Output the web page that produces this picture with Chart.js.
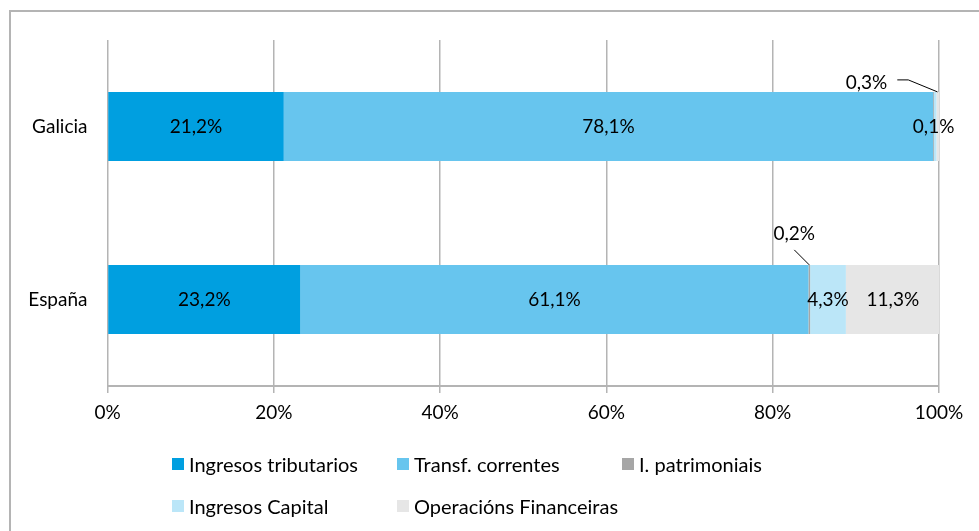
<!DOCTYPE html>
<html>
<head>
<meta charset="utf-8">
<script src="https://cdn.jsdelivr.net/npm/chart.js@4"></script>
<style>
    html, body { margin: 0; padding: 0; background: #fff; overflow: hidden; }
    #wrap { position: relative; width: 979px; height: 531px; }
    #frame {
        position: absolute; left: 9px; top: 10px; width: 1000px; height: 560px;
        border-left: 2px solid #b4b4b4; border-top: 2px solid #b4b4b4;
    }
    #legend {
        position: absolute; left: 172px; top: 452px;
        display: grid; grid-template-columns: 225px 225px 225px; row-gap: 18px;
        font-family: Lato, "Noto Sans", sans-serif; font-size: 20px; color: #000;
    }
    .item { display: flex; align-items: center; height: 24px; white-space: nowrap; }
    .box { width: 12px; height: 12px; margin-right: 5px; flex: none; }
</style>
</head>
<body>
<div id="wrap">
    <div id="frame"></div>
    <canvas id="chart" width="979" height="531"></canvas>
    <div id="legend"></div>
</div>
<script>
// --- datos ---
const categories = ['Galicia', 'España'];
const tributarios = [21.2, 23.2];
const transferencias = [78.1, 61.1];
const patrimoniais = [0.1, 0.2];
const capital = [0.3, 4.3];
const financeiras = [0.3, 11.3];
const xTickValues = [0, 20, 40, 60, 80, 100];

// --- onde vai cada etiqueta (center / leader / none) ---
const labelMode = [
    ['center', 'center'],
    ['center', 'center'],
    ['center', 'leader'],
    ['leader', 'center'],
    ['none', 'center']
];
const FONT = 'Lato, "Noto Sans", sans-serif';
const FONT_SIZE = 19;

const fmt = v => v.toFixed(1).replace('.', ',') + '%';

// etiquetas de datos con líneas guía
const dataLabels = {
    id: 'dataLabels',
    afterDatasetsDraw(chart) {
        const ctx = chart.ctx;
        ctx.save();
        ctx.font = FONT_SIZE + 'px ' + FONT;
        ctx.fillStyle = '#000';
        ctx.textAlign = 'center';
        ctx.textBaseline = 'middle';
        chart.data.datasets.forEach((ds, di) => {
            const meta = chart.getDatasetMeta(di);
            meta.data.forEach((bar, i) => {
                const mode = labelMode[di][i];
                if (mode === 'none') return;
                const text = fmt(ds.data[i]);
                const cx = (bar.x + bar.base) / 2;
                if (mode === 'center') {
                    ctx.fillText(text, cx, bar.y);
                    return;
                }
                const top = bar.y - bar.height / 2;
                ctx.strokeStyle = '#000';
                ctx.lineWidth = 1;
                ctx.beginPath();
                if (i === 0) {
                    // etiqueta á esquerda, liña horizontal + diagonal
                    const tx = bar.x - 70, ty = top - 9;
                    ctx.fillText(text, tx, ty);
                    const w = ctx.measureText(text).width;
                    ctx.moveTo(tx + w / 2 + 10, ty - 3);
                    ctx.lineTo(tx + w / 2 + 21, ty - 3);
                    ctx.lineTo(bar.x + 1, top);
                } else {
                    const tx = cx - 15, ty = top - 31;
                    ctx.fillText(text, tx, ty);
                    ctx.moveTo(tx, ty + 16);
                    ctx.lineTo(cx, top);
                }
                ctx.stroke();
            });
        });
        ctx.restore();
    }
};

const chart = new Chart(document.getElementById('chart'), {
    type: 'bar',
    data: {
        labels: categories,
        datasets: [
            { label: 'Ingresos tributarios', data: tributarios, backgroundColor: '#009fe0' },
            { label: 'Transf. correntes', data: transferencias, backgroundColor: '#67c5ee' },
            { label: 'I. patrimoniais', data: patrimoniais, backgroundColor: '#a6a6a6' },
            { label: 'Ingresos Capital', data: capital, backgroundColor: '#bbe6f8' },
            { label: 'Operacións Financeiras', data: financeiras, backgroundColor: '#e6e6e6' }
        ]
    },
    options: {
        indexAxis: 'y',
        responsive: false,
        animation: false,
        categoryPercentage: 0.8,
        barPercentage: 0.5,
        layout: { padding: { left: 0, right: 40, top: 40, bottom: 0 } },
        scales: {
            x: {
                stacked: true,
                min: 0,
                max: 100,
                afterBuildTicks(scale) { scale.ticks = xTickValues.map(v => ({ value: v })); },
                afterFit(scale) { scale.height = 145; },
                grid: { color: '#b4b4b4', lineWidth: 1.5, tickLength: 7, drawOnChartArea: true },
                border: { color: '#b4b4b4', width: 2 },
                ticks: {
                    padding: 8,
                    color: '#000',
                    font: { family: FONT, size: FONT_SIZE },
                    callback: v => v + '%'
                }
            },
            y: {
                stacked: true,
                afterFit(scale) { scale.width = 107.5; },
                grid: { display: false, drawTicks: false },
                border: { display: false },
                ticks: {
                    padding: 20,
                    color: '#000',
                    font: { family: FONT, size: FONT_SIZE }
                }
            }
        },
        plugins: {
            legend: { display: false },
            tooltip: { enabled: false }
        }
    },
    plugins: [dataLabels]
});

// lenda en HTML (grella de tres columnas)
const legend = document.getElementById('legend');
chart.data.datasets.forEach(ds => {
    const item = document.createElement('div');
    item.className = 'item';
    const box = document.createElement('span');
    box.className = 'box';
    box.style.background = ds.backgroundColor;
    item.appendChild(box);
    item.appendChild(document.createTextNode(ds.label));
    legend.appendChild(item);
});
</script>
</body>
</html>
